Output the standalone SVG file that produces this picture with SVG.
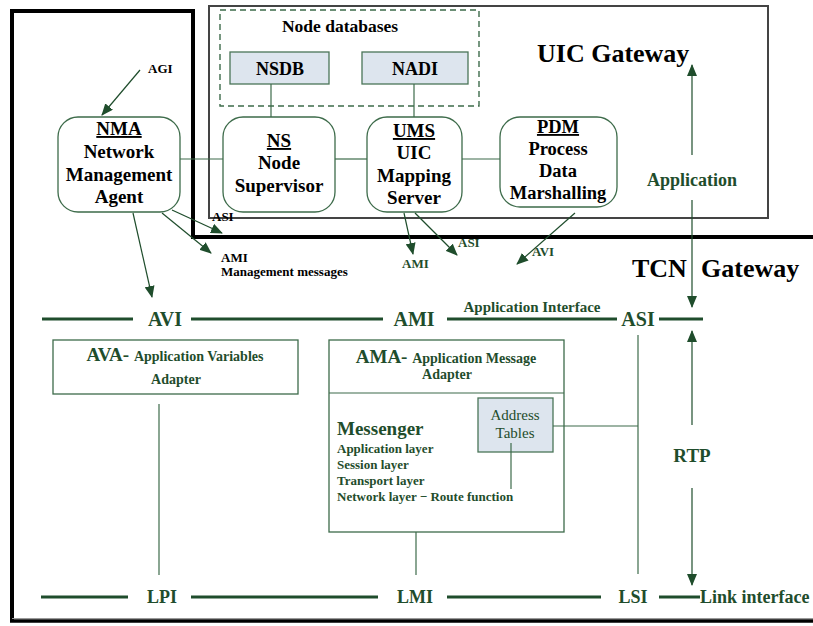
<svg xmlns="http://www.w3.org/2000/svg" width="813" height="626" viewBox="0 0 813 626">
  <style>
    text { font-family: "Liberation Serif", "Times New Roman", serif; font-weight: bold; }
    .blk { fill: #000; }
    .grn { fill: #1f4d2c; }
    .frame { fill: none; stroke: #000; stroke-width: 4; }
    .uic { fill: none; stroke: #444; stroke-width: 2; }
    .dash { fill: none; stroke: #3d6b4a; stroke-width: 1.4; stroke-dasharray: 6 4; }
    .node { fill: #fff; stroke: #3d6b4a; stroke-width: 1.3; }
    .db { fill: #dde5ee; stroke: #4a7558; stroke-width: 1.3; }
    .box { fill: #fff; stroke: #3d6b4a; stroke-width: 1.3; }
    .lk { fill: none; stroke: #3d6b4a; stroke-width: 1.2; }
    .bus { stroke: #1f4d2c; stroke-width: 3; }
    .arr { fill: none; stroke: #1f4d2c; stroke-width: 1.2; marker-end: url(#ah); }
    .n19 { font-size: 19px; }
    .u { text-decoration: underline; }
  </style>
  <defs>
    <marker id="ah" markerUnits="userSpaceOnUse" markerWidth="12" markerHeight="10" refX="11" refY="5" orient="auto">
      <path d="M0,0 L12,5 L0,10 Z" fill="#1f4d2c"/>
    </marker>
  </defs>

  <rect width="813" height="626" fill="#fff"/>

  <!-- gateway boundaries -->
  <g id="frames">
    <rect class="uic" x="209" y="6" width="559" height="212"/>
    <polyline class="frame" points="12,622 12,11 193,11 193,237 813,237"/>
    <line x1="12" y1="618.5" x2="813" y2="618.5" stroke="#999" stroke-width="1"/>
    <line x1="10" y1="621" x2="813" y2="621" stroke="#000" stroke-width="3.5"/>
    <text class="blk" x="537" y="62" font-size="26">UIC Gateway</text>
    <text class="blk" x="632" y="277" font-size="26">TCN</text>
    <text class="blk" x="701" y="277" font-size="26">Gateway</text>
  </g>

  <!-- node databases -->
  <g id="node-databases">
    <rect class="dash" x="220" y="10" width="259" height="96"/>
    <text class="blk" x="340" y="32" font-size="17.5" text-anchor="middle">Node databases</text>
  </g>
  <g id="nsdb">
    <rect class="db" x="230" y="52" width="99" height="32"/>
    <text class="blk" x="280" y="75" font-size="18" text-anchor="middle">NSDB</text>
  </g>
  <g id="nadi">
    <rect class="db" x="362" y="52" width="106" height="32"/>
    <text class="blk" x="415" y="75" font-size="18" text-anchor="middle">NADI</text>
  </g>

  <!-- management / supervision nodes -->
  <g id="nma">
    <rect class="node" x="58" y="117" width="122" height="95" rx="20"/>
    <text class="blk n19 u" x="119" y="135" text-anchor="middle">NMA</text>
    <text class="blk n19" x="119" y="158" text-anchor="middle">Network</text>
    <text class="blk n19" x="119" y="181" text-anchor="middle">Management</text>
    <text class="blk n19" x="119" y="203" text-anchor="middle">Agent</text>
  </g>
  <g id="ns">
    <rect class="node" x="223" y="117" width="112" height="95" rx="20"/>
    <text class="blk n19 u" x="279" y="147" text-anchor="middle">NS</text>
    <text class="blk n19" x="279" y="169" text-anchor="middle">Node</text>
    <text class="blk n19" x="279" y="192" text-anchor="middle">Supervisor</text>
  </g>
  <g id="ums">
    <rect class="node" x="367" y="117" width="95" height="95" rx="20"/>
    <text class="blk n19 u" x="414" y="137" text-anchor="middle">UMS</text>
    <text class="blk n19" x="414" y="159" text-anchor="middle">UIC</text>
    <text class="blk n19" x="414" y="182" text-anchor="middle">Mapping</text>
    <text class="blk n19" x="414" y="204" text-anchor="middle">Server</text>
  </g>
  <g id="pdm">
    <rect class="node" x="500" y="117" width="117" height="90" rx="20"/>
    <text class="blk u" x="558" y="133" font-size="18.5" text-anchor="middle">PDM</text>
    <text class="blk" x="558" y="155" font-size="18.5" text-anchor="middle">Process</text>
    <text class="blk" x="558" y="177" font-size="18.5" text-anchor="middle">Data</text>
    <text class="blk" x="558" y="199" font-size="18.5" text-anchor="middle">Marshalling</text>
  </g>

  <!-- adapters -->
  <g id="ava">
    <rect class="box" x="53" y="340" width="245" height="54"/>
    <text class="grn" x="175" y="361" font-size="19" text-anchor="middle">AVA- <tspan font-size="14">Application Variables</tspan></text>
    <text class="grn" x="176" y="384" font-size="14" text-anchor="middle">Adapter</text>
  </g>
  <g id="ama">
    <rect class="box" x="329" y="340" width="235" height="192"/>
    <line class="lk" x1="329" y1="393" x2="564" y2="393"/>
    <text class="grn" x="446" y="363" font-size="19" text-anchor="middle">AMA- <tspan font-size="14">Application Message</tspan></text>
    <text class="grn" x="447" y="379" font-size="14" text-anchor="middle">Adapter</text>
    <text class="grn" x="337" y="435" font-size="19">Messenger</text>
    <text class="grn" x="337" y="453" font-size="13">Application layer</text>
    <text class="grn" x="337" y="469" font-size="13">Session layer</text>
    <text class="grn" x="337" y="485" font-size="13">Transport layer</text>
    <text class="grn" x="337" y="501" font-size="13">Network layer − Route function</text>
  </g>
  <g id="address-tables">
    <rect class="db" x="478" y="398" width="75" height="54"/>
    <text class="grn" x="515" y="420" font-size="15" font-weight="normal" style="font-weight:normal" text-anchor="middle">Address</text>
    <text class="grn" x="515" y="438" font-size="15" style="font-weight:normal" text-anchor="middle">Tables</text>
  </g>

  <!-- interface buses -->
  <g id="interfaces">
    <line class="bus" x1="42" y1="319" x2="133" y2="319"/>
    <line class="bus" x1="191" y1="319" x2="383" y2="319"/>
    <line class="bus" x1="447" y1="319" x2="617" y2="319"/>
    <line class="bus" x1="659" y1="319" x2="703" y2="319"/>
    <text class="grn" x="165" y="326" font-size="20" text-anchor="middle">AVI</text>
    <text class="grn" x="414" y="326" font-size="20" text-anchor="middle">AMI</text>
    <text class="grn" x="638" y="326" font-size="20" text-anchor="middle">ASI</text>
    <text class="grn" x="532" y="312" font-size="15" text-anchor="middle">Application Interface</text>

    <line class="bus" x1="41" y1="597" x2="128" y2="597"/>
    <line class="bus" x1="191" y1="597" x2="378" y2="597"/>
    <line class="bus" x1="447" y1="597" x2="601" y2="597"/>
    <line class="bus" x1="659" y1="597" x2="700" y2="597"/>
    <text class="grn" x="162" y="603" font-size="18" text-anchor="middle">LPI</text>
    <text class="grn" x="415" y="603" font-size="18" text-anchor="middle">LMI</text>
    <text class="grn" x="633" y="603" font-size="18" text-anchor="middle">LSI</text>
    <text class="grn" x="700" y="603" font-size="18">Link interface</text>

    <text class="grn" x="692" y="186" font-size="18" text-anchor="middle">Application</text>
    <text class="grn" x="692" y="462" font-size="19" text-anchor="middle">RTP</text>
  </g>

  <!-- connectors -->
  <g id="connectors">
    <line class="lk" x1="271" y1="84" x2="271" y2="117"/>
    <line class="lk" x1="414" y1="84" x2="414" y2="117"/>
    <line class="lk" x1="180" y1="159" x2="223" y2="159"/>
    <line class="lk" x1="335" y1="159" x2="367" y2="159"/>
    <line class="lk" x1="462" y1="159" x2="500" y2="159"/>

    <line class="lk" x1="159" y1="404" x2="159" y2="575"/>
    <line class="lk" x1="416" y1="532" x2="416" y2="575"/>
    <line class="lk" x1="511" y1="443" x2="511" y2="489"/>
    <line class="lk" x1="553" y1="426" x2="638" y2="426"/>
    <line class="lk" x1="638" y1="335" x2="638" y2="574"/>

    <!-- application / RTP arrows -->
    <line class="arr" x1="692" y1="155" x2="692" y2="65"/>
    <line class="arr" x1="692" y1="200" x2="692" y2="307"/>
    <line class="arr" x1="692" y1="425" x2="692" y2="331"/>
    <line class="arr" x1="692" y1="488" x2="692" y2="585"/>

    <!-- management arrows -->
    <line class="arr" x1="140" y1="70" x2="102" y2="115"/>
    <line class="arr" x1="133" y1="213" x2="152" y2="297"/>
    <line class="arr" x1="172" y1="210" x2="222" y2="233"/>
    <line class="arr" x1="162" y1="213" x2="211" y2="253"/>
    <line class="arr" x1="404" y1="213" x2="413" y2="254"/>
    <line class="arr" x1="415" y1="213" x2="457" y2="255"/>
    <line class="arr" x1="575" y1="213" x2="517" y2="264"/>
  </g>

  <!-- arrow labels -->
  <g id="labels">
    <text class="blk" x="148" y="73" font-size="13">AGI</text>
    <text class="blk" x="212" y="221" font-size="13">ASI</text>
    <text class="blk" x="221" y="262" font-size="13">AMI</text>
    <text class="blk" x="221" y="276" font-size="13">Management messages</text>
    <text class="grn" x="402" y="268" font-size="13">AMI</text>
    <text class="grn" x="458" y="247" font-size="13">ASI</text>
    <text class="grn" x="532" y="256" font-size="13">AVI</text>
  </g>
</svg>
